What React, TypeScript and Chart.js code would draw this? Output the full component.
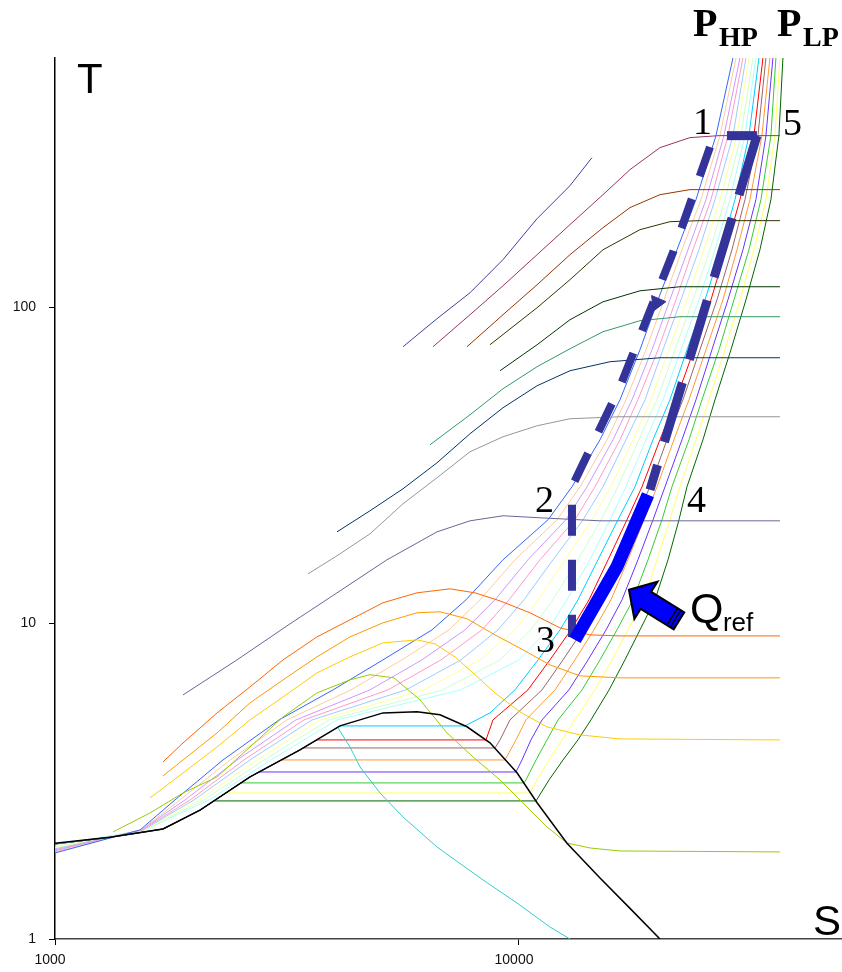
import React, { useEffect, useRef } from 'react';
import { Chart, registerables } from 'chart.js';

Chart.register(...registerables);

// ---------------- axes ----------------
const sRange = [1000, 49680];
const tRange = [1, 616.5];
const sTicks = [1000, 10000];
const tTicks = [1, 10, 100];

// ---------------- saturation dome ----------------
const domeS = [1000, 1314, 1709, 2054, 2632, 3373, 4114, 5093, 6028, 6757, 7727, 8660, 9902, 10940, 12690, 14950, 17350, 20130];
const domeT = [2.01, 2.10, 2.23, 2.56, 3.26, 3.97, 4.73, 5.20, 5.24, 5.13, 4.70, 4.18, 3.36, 2.70, 2.01, 1.56, 1.25, 1.0];

// descending cyan curve
const dropS = [4073, 4323, 4543, 5017, 5623, 6657, 8365, 9902, 11660, 12880];
const dropT = [4.661, 4.057, 3.507, 2.901, 2.435, 1.956, 1.538, 1.300, 1.0915, 1.0];

// ---------------- isenthalps ----------------
const hNavyTopS = [5623, 6657, 7842, 9237, 10940, 12880, 14362];
const hNavyTopT = [75.08, 92.11, 111.3, 141.7, 191.1, 243.0, 298.0];
const hMagentaS = [6526, 7842, 9237, 10940, 12880, 15174, 17350, 20130, 23360, 27000, 36510];
const hMagentaT = [75.08, 94.83, 117.1, 146.9, 182.9, 227.6, 273.2, 320.7, 345, 350, 350];
const hBrownS = [7726, 9237, 10940, 12880, 15174, 17350, 20130, 23360, 36510];
const hBrownT = [75.08, 94.83, 118.0, 146.9, 178.9, 207.1, 227.6, 236.1, 236.1];
const hOliveS = [8660, 10940, 12880, 15174, 18230, 21150, 24550, 36510];
const hOliveT = [76.19, 99.81, 122.4, 152.3, 176.3, 186.9, 188.3, 188.3];
const hDkGreenS = [9101, 10940, 12880, 15174, 18230, 22230, 36510];
const hDkGreenT = [63.03, 76.19, 91.43, 104.2, 112.9, 116.3, 116.3];
const hSeaGreenS = [6430, 7842, 9237, 10940, 12880, 15174, 18230, 22230, 36510];
const hSeaGreenT = [36.73, 45.72, 55.27, 64.90, 74.00, 83.77, 90.77, 93.47, 93.47];
const hNavyS = [4053, 4774, 5623, 6657, 7842, 9237, 10940, 12880, 15710, 20130, 36510];
const hNavyT = [19.47, 22.70, 26.65, 32.21, 39.81, 48.12, 56.49, 63.03, 67.31, 69.30, 69.30];
const hGrayS = [3510, 4053, 4774, 5623, 6657, 7842, 9237, 10940, 12880, 16510, 36510];
const hGrayT = [14.33, 16.35, 19.19, 23.89, 28.88, 34.91, 38.94, 42.20, 44.41, 45.07, 45.07];
const hSlateS = [1888, 2468, 3162, 4053, 5194, 6657, 7842, 9237, 11100, 14950, 36510];
const hSlateT = [5.929, 7.655, 9.809, 12.48, 15.88, 19.47, 21.10, 21.89, 21.57, 21.10, 21.10];
const hRedOrangeS = [1709, 1888, 2235, 2632, 3101, 3670, 4323, 5092, 6028, 7101, 8039, 9101, 10560, 12260, 14220, 16510, 36510];
const hRedOrangeT = [3.637, 4.177, 5.200, 6.286, 7.655, 9.052, 10.25, 11.61, 12.48, 12.85, 12.48, 11.77, 10.79, 9.668, 9.186, 9.117, 9.117];
const hOrangeS = [1709, 1888, 2235, 2632, 3101, 3670, 4323, 5092, 6028, 6757, 7726, 8878, 10201, 11660, 13540, 16510, 36510];
const hOrangeT = [3.284, 3.690, 4.494, 5.594, 6.616, 7.824, 9.052, 10.03, 10.79, 10.87, 10.33, 9.186, 8.234, 7.380, 6.812, 6.714, 6.714];
const hGoldS = [1602, 1888, 2235, 2632, 3101, 3670, 4323, 5092, 6028, 6591, 7280, 8039, 8878, 10050, 11493, 13540, 16510, 36510];
const hGoldT = [2.797, 3.356, 4.057, 4.941, 5.843, 6.961, 7.824, 8.664, 8.856, 8.601, 7.824, 6.87, 6.016, 5.238, 4.695, 4.429, 4.301, 4.270];
const hLimeS = [1334, 1602, 1888, 2235, 2632, 3101, 3670, 4323, 4774, 5378, 6118, 6996, 7960, 9101, 10201, 11493, 12685, 14220, 16510, 36510];
const hLimeT = [2.183, 2.507, 2.901, 3.259, 4.057, 5.051, 6.016, 6.616, 6.87, 6.714, 5.72, 4.494, 3.772, 3.190, 2.697, 2.264, 2.014, 1.942, 1.900, 1.887];

// ---------------- isobars (supercritical, high pressure first) ----------------
const superT = [2.215, 2.757, 3.690, 4.941, 6.150, 7.655, 9.527, 11.86, 15.88, 21.26, 27.04, 38.10, 51.0, 73.47, 105.7, 152.3, 219.5, 350, 616.5];
const superStartT = [1.873, 1.887, 1.901, 1.915, 1.929, 1.943, 1.957, 1.986];
const isobar1S = [1525, 1814, 2302, 3040, 3974, 5092, 6494, 7688, 9237, 11551, 13008, 14950, 16510, 18230, 19934, 21906, 24069, 26581, 28917];
const isobar2S = [1533, 1860, 2384, 3162, 4344, 5595, 7066, 8241, 9803, 12079, 13540, 15483, 17004, 18783, 20533, 22452, 24672, 27110, 29355];
const isobar3S = [1533, 1907, 2468, 3306, 4774, 6179, 7650, 8878, 10454, 12622, 14018, 15945, 17523, 19351, 21150, 23132, 25295, 27653, 29940];
const isobar4S = [1540, 1955, 2555, 3441, 5220, 6791, 8323, 9517, 11100, 13200, 14580, 16510, 18047, 19934, 21798, 23710, 25928, 28207, 30389];
const isobar5S = [1548, 1994, 2632, 3580, 5708, 7499, 9011, 10251, 11835, 13743, 15174, 17004, 18690, 20432, 22340, 24430, 26450, 28917, 30843];
const isobar6S = [1556, 2044, 2726, 3725, 6241, 8241, 9803, 10992, 12560, 14362, 15788, 17610, 19255, 21054, 23017, 25042, 27110, 29501, 31305];
const isobar7S = [1556, 2095, 2821, 3896, 6858, 9101, 10612, 11835, 13398, 15024, 16341, 18136, 19836, 21690, 23710, 25800, 27790, 30089, 31932];
const isobar8S = [1563, 2148, 2921, 4053, 7499, 9999, 11551, 12685, 14220, 15710, 17004, 18783, 20432, 22340, 24430, 26450, 28490, 30690, 32410];

// ---------------- isobars (subcritical) ----------------
const liquidS = [1000, 1314, 1709, 2054, 2632, 3373];
const liquidT = [2.00, 2.10, 2.23, 2.56, 3.26, 3.97];
const subLevelT = [4.729, 4.270, 4.027, 3.690, 3.380, 3.121, 2.901, 2.737];
const subLeftS = [4114, 3670, 3424, 3070, 2753, 2517, 2337, 2202];
const subRightS = [7650, 8490, 8878, 9330, 9852, 10251, 10560, 10884];
const isobar9VapS = [8660, 9803, 10992, 12260, 13398, 14799, 16341, 17780];
const isobar9VapT = [5.200, 6.150, 7.655, 9.527, 11.86, 15.88, 21.26, 27.04];
const isobar10VapS = [8790, 10454, 11660, 12944, 14158, 15560, 17089, 18412];
const isobar10VapT = [4.941, 6.150, 7.655, 9.527, 11.86, 15.88, 21.26, 27.04];
const isobar11VapS = [9101, 9563, 11211, 12444, 13743, 14950, 16341, 17780, 19160];
const isobar11VapT = [4.270, 4.941, 6.150, 7.655, 9.527, 11.86, 15.88, 21.26, 27.04];
const isobar12VapS = [9852, 10351, 11960, 13200, 14505, 15788, 17174, 18595, 19836];
const isobar12VapT = [4.270, 4.941, 6.150, 7.655, 9.527, 11.86, 15.88, 21.26, 27.04];
const isobar13VapS = [10150, 10612, 11211, 12812, 14088, 15406, 16675, 18047, 19447, 20640];
const isobar13VapT = [3.690, 4.270, 4.941, 6.150, 7.655, 9.527, 11.86, 15.88, 21.26, 27.04];
const isobar14VapS = [10351, 10884, 11493, 12139, 13675, 14950, 16261, 17610, 18970, 20331, 21361];
const isobar14VapT = [3.190, 3.690, 4.270, 4.941, 6.150, 7.655, 9.527, 11.86, 15.88, 21.26, 27.04];
const isobar15VapS = [10938, 11608, 12382, 13200, 14580, 15867, 17174, 18595, 19836, 21150, 22230];
const isobar15VapT = [3.190, 3.690, 4.270, 4.941, 6.150, 7.655, 9.527, 11.86, 15.88, 21.26, 27.04];
const isobar16VapS = [11608, 12444, 13398, 14291, 15637, 16920, 18230, 19640, 20949, 22125, 23017];
const isobar16VapT = [3.190, 3.690, 4.270, 4.941, 6.150, 7.655, 9.527, 11.86, 15.88, 21.26, 27.04];
const upperT = [38.10, 51.0, 73.47, 105.7, 152.3, 219.5, 350, 616.5];
const isobar9UpS = [19447, 21150, 23017, 25170, 27245, 29210, 31305, 32896];
const isobar10UpS = [20130, 21798, 23828, 25928, 27928, 29940, 32090, 33556];
const isobar11UpS = [20846, 22563, 24550, 26714, 28774, 30690, 32733, 34058];
const isobar12UpS = [21574, 23247, 25295, 27516, 29501, 31460, 33390, 34740];
const isobar13UpS = [22452, 24069, 26057, 28207, 30389, 32410, 34058, 35261];
const isobar14UpS = [23247, 24795, 26980, 29061, 31305, 33224, 34913, 35787];
const isobar15UpS = [24069, 25674, 27790, 29940, 32090, 34058, 35610, 36510];
const isobar16UpS = [24918, 26450, 28632, 30843, 33060, 34913, 36324, 37057];

// ---------------- refrigeration cycle ----------------
const cycleLeftS = [26317, 21467, 16510, 13008, 13008];
const cycleLeftT = [350, 149.1, 56.08, 27.04, 9.052];
const cycleRightS = [32572, 19160];
const cycleRightT = [350, 26.46];
const cycleTopS = [28067, 32572];
const cycleTopT = [350, 350];
const coolingS = [13200, 16261, 18970];
const coolingT = [8.856, 15.09, 25.51];
const flowArrowS = [19836];
const flowArrowT = [103.5];
const qArrowS = [22123, 17258]; // tail, tip
const qArrowT = [10.18, 12.76];

// ---------------- text labels ----------------
const labelText = ['T', 'S', '1', '2', '3', '4', '5', 'P', 'HP', 'P', 'LP', 'Q', 'ref'];
const labelS = [1115, 43015, 23710, 10830, 10884, 23017, 37057, 23710, 26980, 35965, 40935, 23360, 27516];
const labelT = [479, 1.0297, 355.2, 22.54, 8.114, 22.54, 352.7, 722.6, 671.9, 722.6, 671.9, 10.03, 9.458];

const SANS = 'Arial, "Liberation Sans", sans-serif';
const SERIF = '"Times New Roman", "Liberation Serif", serif';
const labelFonts = [
  `42px ${SANS}`, `42px ${SANS}`,
  `38px ${SERIF}`, `38px ${SERIF}`, `38px ${SERIF}`, `38px ${SERIF}`, `38px ${SERIF}`,
  `bold 40px ${SERIF}`, `bold 28px ${SERIF}`, `bold 40px ${SERIF}`, `bold 28px ${SERIF}`,
  `43px ${SANS}`, `26px ${SANS}`,
];

const isobarColors = [
  '#3366ff', '#ffcc99', '#cc99ff', '#ff99cc', '#99ccff', '#ffff99', '#ccffcc', '#aaffff',
  '#00ccff', '#ff0000', '#996666', '#ff9933', '#6633ff', '#33cc33', '#ffff66', '#006600',
];

const pts = (S: number[], T: number[]) => S.map((s, i) => ({ x: s, y: T[i] }));

const annotPlugin = {
  id: 'annot',
  afterDatasetsDraw(chart: any) {
    const { ctx } = chart;
    const xs = chart.scales.x;
    const ys = chart.scales.y;
    ctx.save();
    // Q_ref block arrow
    const tail = { x: xs.getPixelForValue(qArrowS[0]), y: ys.getPixelForValue(qArrowT[0]) };
    const tip = { x: xs.getPixelForValue(qArrowS[1]), y: ys.getPixelForValue(qArrowT[1]) };
    const dx = tip.x - tail.x;
    const dy = tip.y - tail.y;
    const len = Math.hypot(dx, dy);
    const ux = dx / len, uy = dy / len;
    const nx = -uy, ny = ux;
    const headLen = 20, headHW = 22, shaftHW = 10;
    const bx = tip.x - ux * headLen, by = tip.y - uy * headLen;
    ctx.beginPath();
    ctx.moveTo(tail.x + nx * shaftHW, tail.y + ny * shaftHW);
    ctx.lineTo(bx + nx * shaftHW, by + ny * shaftHW);
    ctx.lineTo(bx + nx * headHW, by + ny * headHW);
    ctx.lineTo(tip.x, tip.y);
    ctx.lineTo(bx - nx * headHW, by - ny * headHW);
    ctx.lineTo(bx - nx * shaftHW, by - ny * shaftHW);
    ctx.lineTo(tail.x - nx * shaftHW, tail.y - ny * shaftHW);
    ctx.closePath();
    ctx.fillStyle = '#0000ff';
    ctx.fill();
    ctx.lineWidth = 2;
    ctx.strokeStyle = '#000';
    ctx.stroke();
    ctx.lineWidth = 1.5;
    [4, 8].forEach((d) => {
      const cx = tail.x + ux * d, cy = tail.y + uy * d;
      ctx.beginPath();
      ctx.moveTo(cx + nx * shaftHW, cy + ny * shaftHW);
      ctx.lineTo(cx - nx * shaftHW, cy - ny * shaftHW);
      ctx.stroke();
    });
    // text labels
    ctx.fillStyle = '#000';
    ctx.textAlign = 'left';
    ctx.textBaseline = 'alphabetic';
    labelText.forEach((t, i) => {
      ctx.font = labelFonts[i];
      ctx.fillText(t, xs.getPixelForValue(labelS[i]), ys.getPixelForValue(labelT[i]));
    });
    ctx.restore();
  },
};

export default function App() {
  const ref = useRef<HTMLCanvasElement | null>(null);

  useEffect(() => {
    document.body.style.margin = '0';
    document.body.style.overflow = 'hidden';
    const canvas = ref.current;
    if (!canvas) return;

    const line = (data: any[], color: string, width = 1, extra: any = {}) => ({
      data,
      borderColor: color,
      backgroundColor: color,
      borderWidth: width,
      pointRadius: 0,
      showLine: true,
      fill: false,
      tension: 0,
      ...extra,
    });

    const superList = [isobar1S, isobar2S, isobar3S, isobar4S, isobar5S, isobar6S, isobar7S, isobar8S];
    const superSets = superList.map((S, i) =>
      line([{ x: 1000, y: superStartT[i] }, ...pts(S, superT)], isobarColors[i])
    );

    const vapS = [isobar9VapS, isobar10VapS, isobar11VapS, isobar12VapS, isobar13VapS, isobar14VapS, isobar15VapS, isobar16VapS];
    const vapT = [isobar9VapT, isobar10VapT, isobar11VapT, isobar12VapT, isobar13VapT, isobar14VapT, isobar15VapT, isobar16VapT];
    const upS = [isobar9UpS, isobar10UpS, isobar11UpS, isobar12UpS, isobar13UpS, isobar14UpS, isobar15UpS, isobar16UpS];
    const subSets = vapS.map((S, i) => {
      const liquid = pts(liquidS, liquidT).filter((p) => p.x < subLeftS[i]);
      const data = [
        ...liquid,
        { x: subLeftS[i], y: subLevelT[i] },
        { x: subRightS[i], y: subLevelT[i] },
        ...pts(S, vapT[i]),
        ...pts(upS[i], upperT),
      ];
      return line(data, isobarColors[8 + i]);
    });

    const enthalpySets = [
      line(pts(hNavyTopS, hNavyTopT), '#4040a0'),
      line(pts(hMagentaS, hMagentaT), '#993366'),
      line(pts(hBrownS, hBrownT), '#993300'),
      line(pts(hOliveS, hOliveT), '#333300'),
      line(pts(hDkGreenS, hDkGreenT), '#003300'),
      line(pts(hSeaGreenS, hSeaGreenT), '#339966'),
      line(pts(hNavyS, hNavyT), '#003366'),
      line(pts(hGrayS, hGrayT), '#969696'),
      line(pts(hSlateS, hSlateT), '#666699'),
      line(pts(hRedOrangeS, hRedOrangeT), '#ff6600'),
      line(pts(hOrangeS, hOrangeT), '#ff9900'),
      line(pts(hGoldS, hGoldT), '#ffcc00'),
      line(pts(hLimeS, hLimeT), '#99cc00'),
    ];

    const datasets = [
      {
        data: pts(flowArrowS, flowArrowT),
        pointStyle: 'triangle',
        pointRadius: 9,
        rotation: 203,
        backgroundColor: '#333399',
        borderColor: '#333399',
        borderWidth: 1,
        showLine: false,
      },
      line(pts(coolingS, coolingT), '#0000ff', 13, { borderCapStyle: 'butt', borderJoinStyle: 'round' }),
      line(pts(cycleLeftS, cycleLeftT), '#333399', 8, { borderDash: [31, 24], borderDashOffset: 43, borderCapStyle: 'butt' }),
      line(pts(cycleRightS, cycleRightT), '#333399', 9, { borderDash: [62, 24], borderCapStyle: 'butt' }),
      line(pts(cycleTopS, cycleTopT), '#333399', 9, { borderCapStyle: 'butt' }),
      line(pts(domeS, domeT), '#000000', 1.5),
      line(pts(dropS, dropT), '#33cccc'),
      ...enthalpySets,
      ...subSets,
      ...superSets,
    ];

    const chart = new Chart(canvas, {
      type: 'scatter',
      data: { datasets: datasets as any },
      plugins: [annotPlugin],
      options: {
        animation: false,
        responsive: false,
        devicePixelRatio: 1,
        layout: { autoPadding: false, padding: { top: 58, right: 0, left: 0, bottom: 0 } },
        elements: { point: { radius: 0 } },
        plugins: { legend: { display: false }, tooltip: { enabled: false } },
        scales: {
          x: {
            type: 'logarithmic',
            min: sRange[0],
            max: sRange[1],
            afterBuildTicks: (scale: any) => {
              scale.ticks = sTicks.map((v) => ({ value: v }));
            },
            afterFit: (scale: any) => {
              scale.height = 33;
              scale.paddingLeft = 0;
              scale.paddingRight = 0;
            },
            ticks: {
              autoSkip: false,
              maxRotation: 0,
              padding: 7,
              labelOffset: -5,
              color: '#111',
              font: { family: SANS, size: 14 },
              callback: (v: any) => String(v),
            },
            grid: { drawOnChartArea: false, tickLength: 6, tickColor: '#000' },
            border: { display: true, color: '#444', width: 1.5 },
          },
          y: {
            type: 'logarithmic',
            min: tRange[0],
            max: tRange[1],
            afterBuildTicks: (scale: any) => {
              scale.ticks = tTicks.map((v) => ({ value: v }));
            },
            afterFit: (scale: any) => {
              scale.width = 55;
              scale.paddingTop = 0;
              scale.paddingBottom = 0;
            },
            ticks: {
              autoSkip: false,
              padding: 13,
              color: '#111',
              font: { family: SANS, size: 14 },
              callback: (v: any) => String(v),
            },
            grid: { drawOnChartArea: false, tickLength: 6, tickColor: '#000' },
            border: { display: true, color: '#000', width: 1.5 },
          },
        },
      } as any,
    });

    return () => chart.destroy();
  }, []);

  return (
    <div style={{ width: 842, height: 972, background: '#fff' }}>
      <canvas ref={ref} width={842} height={972} style={{ display: 'block' }} />
    </div>
  );
}
